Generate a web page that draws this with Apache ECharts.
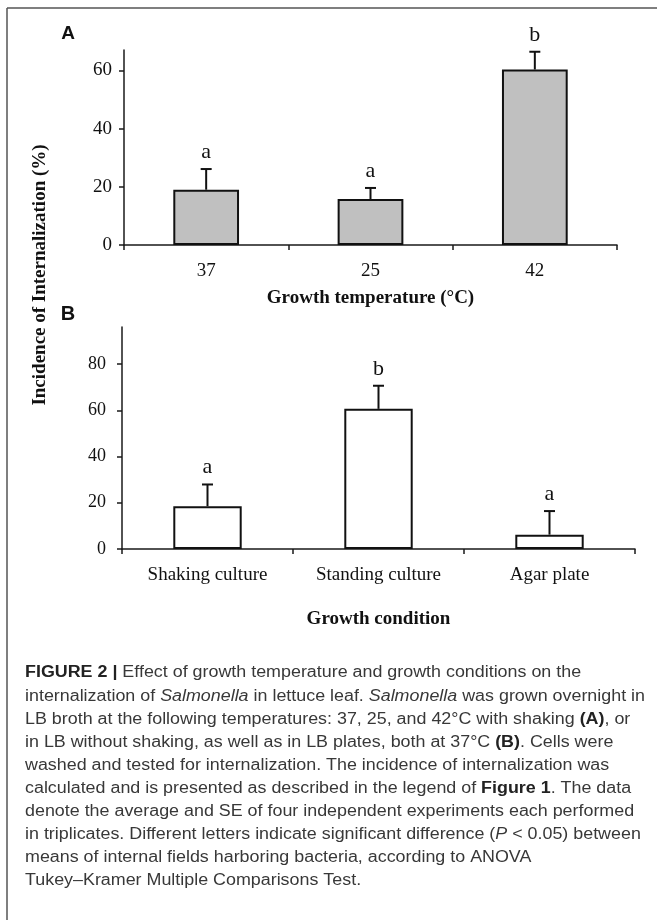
<!DOCTYPE html>
<html>
<head>
<meta charset="utf-8">
<script src="https://cdn.jsdelivr.net/npm/echarts@6/dist/echarts.min.js"></script>
<style>
html,body{margin:0;padding:0;background:#fff;}
#chart{width:657px;height:920px;}
</style>
</head>
<body>
<div id="chart"></div>
<script>
// ---- Data ----
const categoriesA = ['37', '25', '42'];
const valuesA = [19.0, 15.8, 60.3];
const errorsA = [7.1, 3.8, 6.1];
const lettersA = ['a', 'a', 'b'];
const ticksA = [0, 20, 40, 60];

const categoriesB = ['Shaking culture', 'Standing culture', 'Agar plate'];
const valuesB = [18.5, 60.6, 6.2];
const errorsB = [9.4, 10.0, 10.2];
const lettersB = ['a', 'b', 'a'];
const ticksB = [0, 20, 40, 60, 80];

const captionLines = [
  '{b|FIGURE 2 |} Effect of growth temperature and growth conditions on the',
  'internalization of {i|Salmonella} in lettuce leaf. {i|Salmonella} was grown overnight in',
  'LB broth at the following temperatures: 37, 25, and 42°C with shaking {b|(A)}, or',
  'in LB without shaking, as well as in LB plates, both at 37°C {b|(B)}. Cells were',
  'washed and tested for internalization. The incidence of internalization was',
  'calculated and is presented as described in the legend of {b|Figure 1}. The data',
  'denote the average and SE of four independent experiments each performed',
  'in triplicates. Different letters indicate significant difference ({i|P} < 0.05) between',
  'means of internal fields harboring bacteria, according to ANOVA',
  'Tukey–Kramer Multiple Comparisons Test.'
];

// ---- Styles ----
const SERIF = '"Liberation Serif", "Times New Roman", serif';
const SANS = '"Liberation Sans", Arial, sans-serif';
const AXIS_COLOR = '#1a1a1a';

const chart = echarts.init(document.getElementById('chart'), null, {renderer: 'canvas'});

function errorRender(letters) {
  return function (params, api) {
    const idx = api.value(0);
    const v = api.value(1);
    const e = api.value(2);
    const p0 = api.coord([idx, v]);
    const p1 = api.coord([idx, v + e]);
    const cap = 5.5;
    return {
      type: 'group',
      children: [
        {type: 'line', shape: {x1: p0[0], y1: p0[1], x2: p1[0], y2: p1[1]},
         style: {stroke: '#111', lineWidth: 2}},
        {type: 'line', shape: {x1: p1[0] - cap, y1: p1[1], x2: p1[0] + cap, y2: p1[1]},
         style: {stroke: '#111', lineWidth: 2}},
        {type: 'text', x: p1[0], y: p1[1] - 17,
         style: {text: letters[params.dataIndex], font: '22px ' + SERIF,
                 fill: '#111', align: 'center', verticalAlign: 'middle'}}
      ]
    };
  };
}

function xAxisCfg(gridIndex, cats, name, nameGap, labelSize) {
  return {
    type: 'category', gridIndex: gridIndex, data: cats,
    name: name, nameLocation: 'middle', nameGap: nameGap,
    nameTextStyle: {fontFamily: SERIF, fontWeight: 'bold', fontSize: 19, color: '#111'},
    axisLine: {lineStyle: {color: AXIS_COLOR, width: 1.5}},
    axisTick: {show: true, length: 5, lineStyle: {color: AXIS_COLOR, width: 1.5}},
    axisLabel: {fontFamily: SERIF, fontSize: labelSize, color: '#111', margin: 17},
    splitLine: {show: false}
  };
}

function yAxisCfg(gridIndex, max, ticks, labelSize, margin) {
  return {
    type: 'value', gridIndex: gridIndex, min: 0, max: max,
    axisLine: {show: true, lineStyle: {color: AXIS_COLOR, width: 1.5}},
    axisTick: {show: true, length: 5, customValues: ticks, lineStyle: {color: AXIS_COLOR, width: 1.5}},
    axisLabel: {fontFamily: SERIF, fontSize: labelSize, color: '#111', margin: margin, customValues: ticks},
    splitLine: {show: false}
  };
}

// caption graphics
const captionGraphics = [];
const measureCanvas = document.createElement('canvas').getContext('2d');
measureCanvas.font = '16px ' + SANS;
const line2Plain = captionLines[1].replace(/\{[a-z]+\|([^}]*)\}/g, '$1');
const line2W = measureCanvas.measureText(line2Plain).width;
const sx = 620 / line2W;
captionLines.forEach(function (ln, i) {
  captionGraphics.push({
    type: 'text', x: 25, y: 673 + i * 23.1, scaleX: sx,
    style: {
      text: ln, x: 0, y: 0, fill: '#383838', font: '16px ' + SANS,
      verticalAlign: 'middle', align: 'left',
      rich: {
        b: {fontWeight: 'bold', fontSize: 16, fontFamily: SANS, fill: '#222', color: '#222'},
        i: {fontStyle: 'italic', fontSize: 16, fontFamily: SANS, fill: '#383838', color: '#383838'}
      }
    }
  });
});

const option = {
  animation: false,
  backgroundColor: '#fff',
  grid: [
    {left: 124, right: 40, top: 50, height: 195},
    {left: 122, right: 22, top: 327, height: 222}
  ],
  xAxis: [
    xAxisCfg(0, categoriesA, 'Growth temperature (°C)', 44, 19),
    xAxisCfg(1, categoriesB, 'Growth condition', 61, 19)
  ],
  yAxis: [
    yAxisCfg(0, 67, ticksA, 19, 12),
    yAxisCfg(1, 96, ticksB, 18, 16)
  ],
  series: [
    {type: 'bar', xAxisIndex: 0, yAxisIndex: 0, data: valuesA, barWidth: '40%',
     itemStyle: {color: '#c0c0c0', borderColor: '#111', borderWidth: 2}},
    {type: 'custom', xAxisIndex: 0, yAxisIndex: 0,
     data: valuesA.map(function (v, i) { return [i, v, errorsA[i]]; }),
     renderItem: errorRender(lettersA), z: 5},
    {type: 'bar', xAxisIndex: 1, yAxisIndex: 1, data: valuesB, barWidth: '40%',
     itemStyle: {color: '#ffffff', borderColor: '#111', borderWidth: 2}},
    {type: 'custom', xAxisIndex: 1, yAxisIndex: 1,
     data: valuesB.map(function (v, i) { return [i, v, errorsB[i]]; }),
     renderItem: errorRender(lettersB), z: 5}
  ],
  graphic: [
    // frame lines
    {type: 'line', shape: {x1: 7, y1: 8, x2: 657, y2: 8}, style: {stroke: '#555', lineWidth: 1.5}},
    {type: 'line', shape: {x1: 7, y1: 8, x2: 7, y2: 920}, style: {stroke: '#555', lineWidth: 1.5}},
    // panel letters
    {type: 'text', x: 68, y: 34, style: {text: 'A', font: 'bold 19px ' + SANS, fill: '#111', align: 'center', verticalAlign: 'middle'}},
    {type: 'text', x: 68, y: 314, style: {text: 'B', font: 'bold 20px ' + SANS, fill: '#111', align: 'center', verticalAlign: 'middle'}},
    // y-axis title
    {type: 'text', x: 40, y: 275, rotation: Math.PI / 2,
     style: {text: 'Incidence of Internalization (%)', font: 'bold 19px ' + SERIF, fill: '#111', align: 'center', verticalAlign: 'middle'}}
  ].concat(captionGraphics)
};
chart.setOption(option);
</script>
</body>
</html>
